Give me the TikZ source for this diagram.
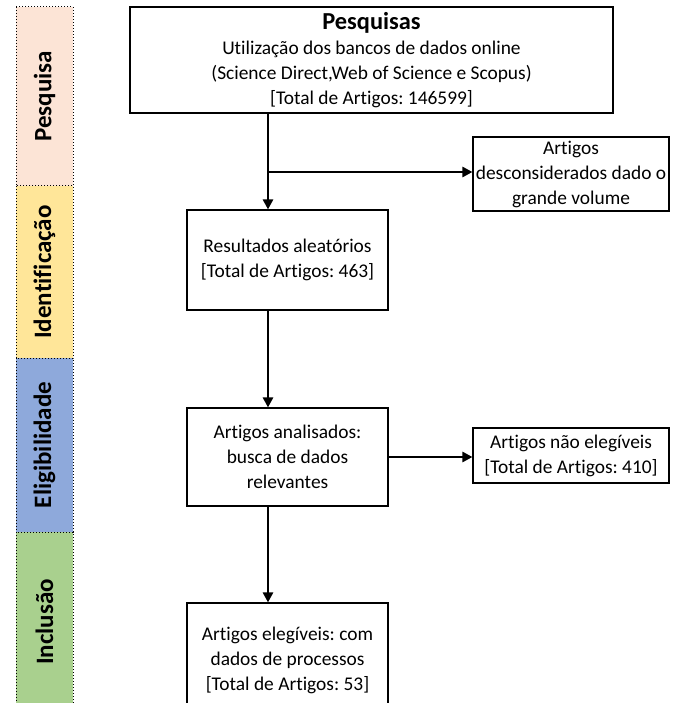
\documentclass[tikz,border=0pt]{standalone}
\usepackage{fontspec}
\setmainfont{Carlito}[Ligatures=NoCommon]
\usetikzlibrary{arrows.meta}
\frenchspacing
\begin{document}
\begin{tikzpicture}[x=1pt,y=-1pt,
  box/.style={draw=black, line width=1.1pt, align=center, inner sep=0pt, font=\fontsize{19.4}{25}\selectfont, text=black},
  arr/.style={line width=2.6pt, -{Triangle[length=10pt,width=10pt]}},
  phase/.style={draw=black, dotted, line width=1pt, inner sep=0pt, rotate=90, minimum height=57pt, font=\bfseries\fontsize{25}{28}\selectfont}]
\useasboundingbox (0,0) rectangle (679,703);
\clip (0,0) rectangle (679,703);
% phases
\node[phase, fill={rgb,255:red,252;green,228;blue,214}, minimum width=179pt] (p1) at (44.5,96.5) {Pesquisa};
\node[phase, fill={rgb,255:red,255;green,230;blue,153}, minimum width=172pt] (p2) at (44.5,272) {Identificação};
\node[phase, fill={rgb,255:red,142;green,169;blue,219}, minimum width=174pt] (p3) at (44.5,445) {Eligibilidade};
\node[phase, fill={rgb,255:red,169;green,208;blue,142}, minimum width=180pt] (p4) at (44.5,622) {Inclusão};
% boxes
\node[box, minimum width=483pt, minimum height=106pt] (top) at (371.5,60)
  {{\bfseries\fontsize{24.4}{25}\selectfont Pesquisas}\\Utilização dos bancos de dados online\\(Science Direct,Web of Science e Scopus)\\{}{[Total de Artigos: 146599]}};
\node[box, minimum width=196pt, minimum height=74pt] (desc) at (571,174)
  {Artigos\\desconsiderados dado o\\grande volume};
\node[box, minimum width=201pt, minimum height=100pt] (res) at (287.5,260)
  {Resultados aleatórios\\{}{[Total de Artigos: 463]}};
\node[box, minimum width=201pt, minimum height=98pt] (anal) at (287.5,457)
  {Artigos analisados:\\busca de dados\\relevantes};
\node[box, minimum width=196pt, minimum height=55pt] (nao) at (571,455.5)
  {Artigos não elegíveis\\{}{[Total de Artigos: 410]}};
\node[box, minimum width=201pt, minimum height=112pt, text depth=0pt] (eleg) at (287.5,659)
  {Artigos elegíveis: com\\dados de processos\\{}{[Total de Artigos: 53]}};
% connectors
\coordinate (cx) at (268,0);
\coordinate (br) at (268,172);
\draw[arr] (top.south -| cx) -- (res.north -| cx);
\draw[arr] (br) -- (br -| desc.west);
\draw[arr] (res.south -| cx) -- (anal.north -| cx);
\draw[arr] (anal.east) -- (anal.east -| nao.west);
\draw[arr] (anal.south -| cx) -- (eleg.north -| cx);
\end{tikzpicture}
\end{document}
